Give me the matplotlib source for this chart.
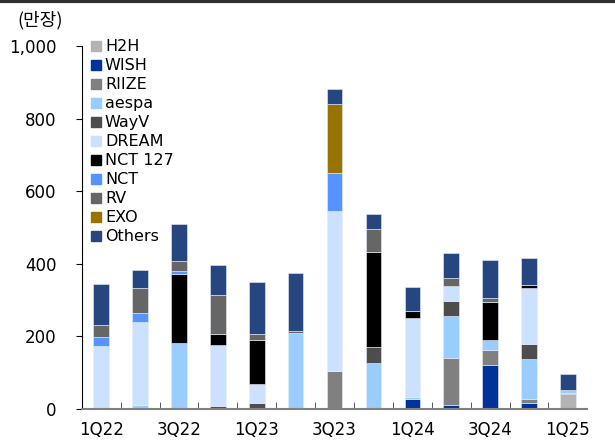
import numpy as np
import matplotlib.pyplot as plt
from matplotlib.lines import Line2D

plt.rcParams['font.family'] = ['DejaVu Sans', 'Noto Sans CJK KR']

quarters = ['1Q22', '2Q22', '3Q22', '4Q22', '1Q23', '2Q23', '3Q23',
            '4Q23', '1Q24', '2Q24', '3Q24', '4Q24', '1Q25']

# album sales by artist (10k copies), bottom to top of each stack
h2h    = [0, 0, 0, 0, 0, 0, 0, 0, 0, 0, 0, 0, 41]
wish   = [0, 0, 0, 0, 0, 0, 0, 0, 28, 12, 122, 17, 0]
riize  = [0, 0, 0, 0, 0, 0, 104, 0, 0, 128, 40, 11, 2]
aespa  = [0, 11, 183, 0, 4, 209, 0, 127, 5, 117, 27, 110, 9]
wayv   = [0, 0, 0, 8, 13, 0, 0, 44, 0, 41, 0, 40, 0]
dream  = [173, 228, 0, 167, 52, 0, 441, 0, 217, 41, 0, 156, 0]
nct127 = [0, 0, 190, 31, 122, 0, 0, 262, 19, 0, 105, 8, 0]
nct    = [24, 25, 7, 0, 0, 0, 105, 0, 0, 0, 0, 0, 0]
rv     = [34, 69, 28, 107, 15, 6, 0, 62, 0, 21, 11, 0, 0]
exo    = [0, 0, 0, 0, 0, 0, 190, 0, 0, 0, 0, 0, 0]
others = [112, 50, 101, 84, 145, 161, 41, 42, 67, 70, 105, 74, 44]

series = [
    ('H2H', h2h, '#b3b3b3'),
    ('WISH', wish, '#003399'),
    ('RIIZE', riize, '#808080'),
    ('aespa', aespa, '#99ccff'),
    ('WayV', wayv, '#4d4d4d'),
    ('DREAM', dream, '#cce0ff'),
    ('NCT 127', nct127, '#000000'),
    ('NCT', nct, '#5593ff'),
    ('RV', rv, '#666666'),
    ('EXO', exo, '#997300'),
    ('Others', others, '#25467f'),
]

fig = plt.figure(figsize=(6.15, 4.41), dpi=100)
ax = fig.add_axes([0.133, 0.0726, 0.822, 0.823])

x = np.arange(len(quarters))
bottom = np.zeros(len(quarters))
for name, vals, color in series:
    vals = np.array(vals, dtype=float)
    ax.bar(x, vals, bottom=bottom, width=0.4, color=color, label=name,
           edgecolor='#e8eef8', linewidth=0.4)
    bottom += vals

ax.set_xlim(-0.5, len(quarters) - 0.5)
ax.set_ylim(0, 1000)
ax.set_yticks(range(0, 1001, 200))
ax.set_yticklabels([f'{v:,}' for v in range(0, 1001, 200)], fontsize=12)
ax.set_xticks(x[::2])
ax.set_xticklabels(quarters[::2], fontsize=12)
ax.set_xticks(np.arange(0.5, len(quarters) - 0.5, 1), minor=True)
ax.tick_params(axis='x', which='major', length=0, pad=9)
ax.tick_params(axis='x', which='minor', direction='in', length=5, color='#404040')
ax.tick_params(axis='y', direction='out', length=4, pad=14)

for s in ['top', 'right']:
    ax.spines[s].set_visible(False)
ax.spines['bottom'].set_color('#808080')
ax.spines['bottom'].set_linewidth(1.5)

handles, labels = ax.get_legend_handles_labels()
handles = [Line2D([], [], marker='s', linestyle='', markersize=7,
                  color=c) for _, _, c in series]
ax.legend(handles, labels, loc='upper left', bbox_to_anchor=(0.0, 1.045),
          frameon=False, fontsize=11.5, labelspacing=0.25, handlelength=0.6,
          handletextpad=0.25, borderaxespad=0.2)

fig.text(0.065, 0.955, '(만장)', fontsize=13, ha='center', va='center',
         family=['Noto Sans CJK KR', 'DejaVu Sans'])
fig.add_artist(Line2D([0, 1], [0.997, 0.997], color='#303030', linewidth=3,
                      transform=fig.transFigure))

fig.savefig('out.png', dpi=100)
